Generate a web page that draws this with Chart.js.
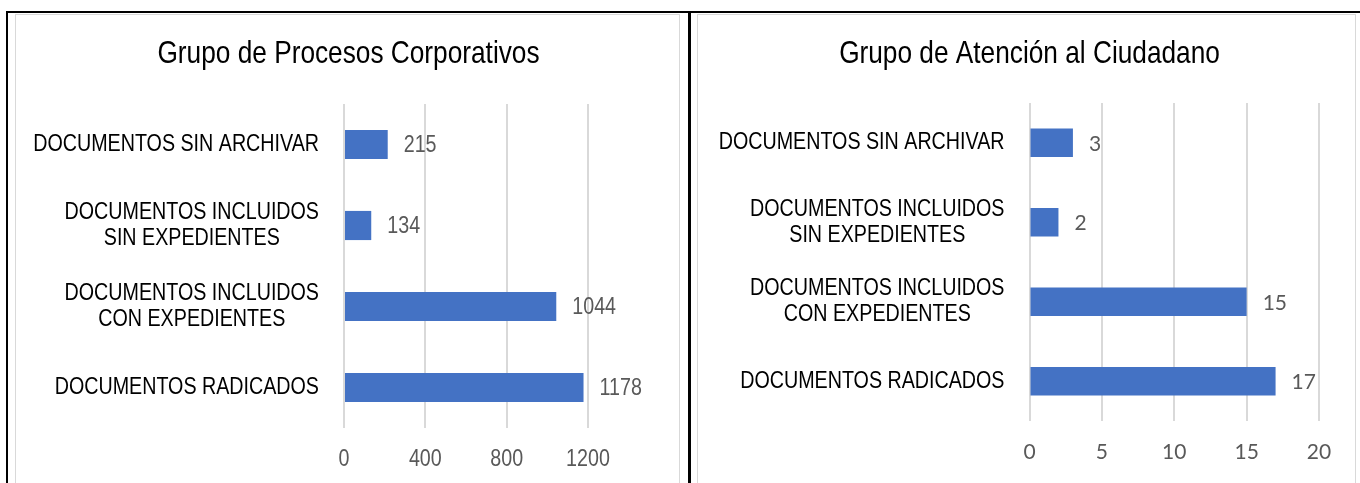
<!DOCTYPE html>
<html lang="es">
<head>
<meta charset="utf-8">
<title>Documentos por grupo</title>
<script src="https://cdn.jsdelivr.net/npm/chart.js@4.4.1/dist/chart.umd.min.js"></script>
<style>
    html, body { margin: 0; padding: 0; background: #fff; }
    body { width: 1360px; height: 483px; position: relative; overflow: hidden; }
    .negro { position: absolute; background: #000; }
    .marco { position: absolute; border: 1px solid #d9d9d9; box-sizing: border-box; }
    canvas { position: absolute; }
</style>
</head>
<body>
<!-- bordes de la tabla -->
<div class="negro" style="left:6px;top:11px;width:1354px;height:2px"></div>
<div class="negro" style="left:6px;top:11px;width:2px;height:472px"></div>
<div class="negro" style="left:688px;top:11px;width:3px;height:472px"></div>
<div class="marco" style="left:15px;top:14px;width:665px;height:480px"></div>
<div class="marco" style="left:697px;top:14px;width:659px;height:480px"></div>

<canvas id="grafCorp" width="661" height="468" style="left:17px;top:15px"></canvas>
<canvas id="grafCiud" width="655" height="468" style="left:699px;top:15px"></canvas>

<script>
// datos
var categorias = [
    'DOCUMENTOS SIN ARCHIVAR',
    ['DOCUMENTOS INCLUIDOS', 'SIN EXPEDIENTES'],
    ['DOCUMENTOS INCLUIDOS', 'CON EXPEDIENTES'],
    'DOCUMENTOS RADICADOS'
];
var tituloCorp = 'Grupo de Procesos Corporativos';
var valoresCorp = [215, 134, 1044, 1178];
var ticksCorp = [0, 400, 800, 1200];

var tituloCiud = 'Grupo de Atención al Ciudadano';
var valoresCiud = [3, 2, 15, 17];
var ticksCiud = [0, 5, 10, 15, 20];

var SANS = "'Liberation Sans', Arial, sans-serif";
var ESTRECHO = 0.82;   // no hay Arial Narrow: se comprime en horizontal
var AZUL = '#4472C4';
var GRIS = '#595959';

// texto "narrow": escala horizontal alrededor del punto de anclaje
function textoEstrecho(ctx, txt, x, y) {
    ctx.save();
    ctx.translate(x, y);
    ctx.scale(ESTRECHO, 1);
    ctx.fillText(txt, 0, 0);
    ctx.restore();
}

// titulo, categorias y (opcional) ticks del eje x
var textos = {
    id: 'textos',
    afterDraw: function (chart, args, opts) {
        var ctx = chart.ctx, y = chart.scales.y, x = chart.scales.x;
        ctx.save();
        ctx.textBaseline = 'middle';

        // titulo
        ctx.font = '32px ' + SANS;
        ctx.fillStyle = '#000';
        ctx.textAlign = 'center';
        textoEstrecho(ctx, opts.titulo, chart.width / 2 + opts.tituloDx, opts.tituloY);

        // categorias: bloque alineado a la derecha, lineas centradas
        ctx.font = opts.catSize + 'px ' + SANS;
        chart.data.labels.forEach(function (lab, i) {
            var lineas = Array.isArray(lab) ? lab : [lab];
            var ancho = ESTRECHO * Math.max.apply(null, lineas.map(function (l) { return ctx.measureText(l).width; }));
            var cx = chart.chartArea.left - opts.gap - ancho / 2;
            var cy = y.getPixelForValue(i) - (lineas.length - 1) * opts.lineHeight / 2;
            lineas.forEach(function (l, k) {
                textoEstrecho(ctx, l, cx, cy + k * opts.lineHeight);
            });
        });

        // ticks estrechos
        if (opts.ticksEstrechos) {
            ctx.font = opts.tickSize + 'px ' + SANS;
            ctx.fillStyle = GRIS;
            x.ticks.forEach(function (t) {
                textoEstrecho(ctx, String(t.value), x.getPixelForValue(t.value), opts.tickY);
            });
        }
        ctx.restore();
    }
};

// valores al final de cada barra
var valoresBarra = {
    id: 'valoresBarra',
    afterDatasetsDraw: function (chart, args, opts) {
        var ctx = chart.ctx;
        var meta = chart.getDatasetMeta(0);
        ctx.save();
        ctx.font = opts.font;
        ctx.fillStyle = GRIS;
        ctx.textAlign = 'left';
        ctx.textBaseline = 'middle';
        meta.data.forEach(function (bar, i) {
            var v = chart.data.datasets[0].data[i];
            if (opts.estrecho) textoEstrecho(ctx, v, bar.x + opts.gap, bar.y + 1);
            else ctx.fillText(v, bar.x + opts.gap, bar.y + 1);
        });
        ctx.restore();
    }
};

function crearGrafico(id, titulo, valores, ticks, cfg) {
    return new Chart(document.getElementById(id), {
        type: 'bar',
        data: {
            labels: categorias,
            datasets: [{
                data: valores,
                backgroundColor: AZUL,
                barPercentage: 0.36,
                categoryPercentage: 1
            }]
        },
        plugins: [textos, valoresBarra],
        options: {
            indexAxis: 'y',
            responsive: false,
            animation: false,
            layout: { padding: { left: 0, right: cfg.padRight, top: cfg.plotTop, bottom: 0 } },
            plugins: {
                legend: { display: false },
                tooltip: { enabled: false },
                title: { display: false },
                textos: {
                    titulo: titulo, tituloY: 39, tituloDx: cfg.tituloDx,
                    catSize: 24, gap: 25, lineHeight: 26,
                    ticksEstrechos: cfg.ticksEstrechos, tickSize: 24, tickY: cfg.tickY
                },
                valoresBarra: { font: cfg.numFont, gap: 16, estrecho: cfg.ticksEstrechos }
            },
            scales: {
                x: {
                    min: 0,
                    max: ticks[ticks.length - 1],
                    afterBuildTicks: function (s) { s.ticks = ticks.map(function (v) { return { value: v }; }); },
                    grid: { color: '#d9d9d9', lineWidth: 2, drawTicks: false },
                    border: { display: false },
                    ticks: {
                        display: !cfg.ticksEstrechos,
                        color: GRIS, font: { family: 'Lato', size: 21 }, padding: 19, maxRotation: 0,
                        callback: function (v) { return String(v); }
                    },
                    afterFit: function (s) { s.height = cfg.axisH; s.paddingLeft = 0; s.paddingRight = 0; }
                },
                y: {
                    grid: { display: false },
                    border: { display: false },
                    ticks: { display: false },
                    afterFit: function (s) { s.width = cfg.yWidth; }
                }
            }
        }
    });
}

crearGrafico('grafCorp', tituloCorp, valoresCorp, ticksCorp, {
    plotTop: 89, padRight: 90, yWidth: 327, axisH: 55, tituloDx: 1,
    ticksEstrechos: true, tickY: 444,
    numFont: '24px ' + SANS
});

crearGrafico('grafCiud', tituloCiud, valoresCiud, ticksCiud, {
    plotTop: 88, padRight: 35, yWidth: 330.5, axisH: 62, tituloDx: 3,
    ticksEstrechos: false, tickY: 0,
    numFont: '21px Lato'
});
</script>
</body>
</html>
